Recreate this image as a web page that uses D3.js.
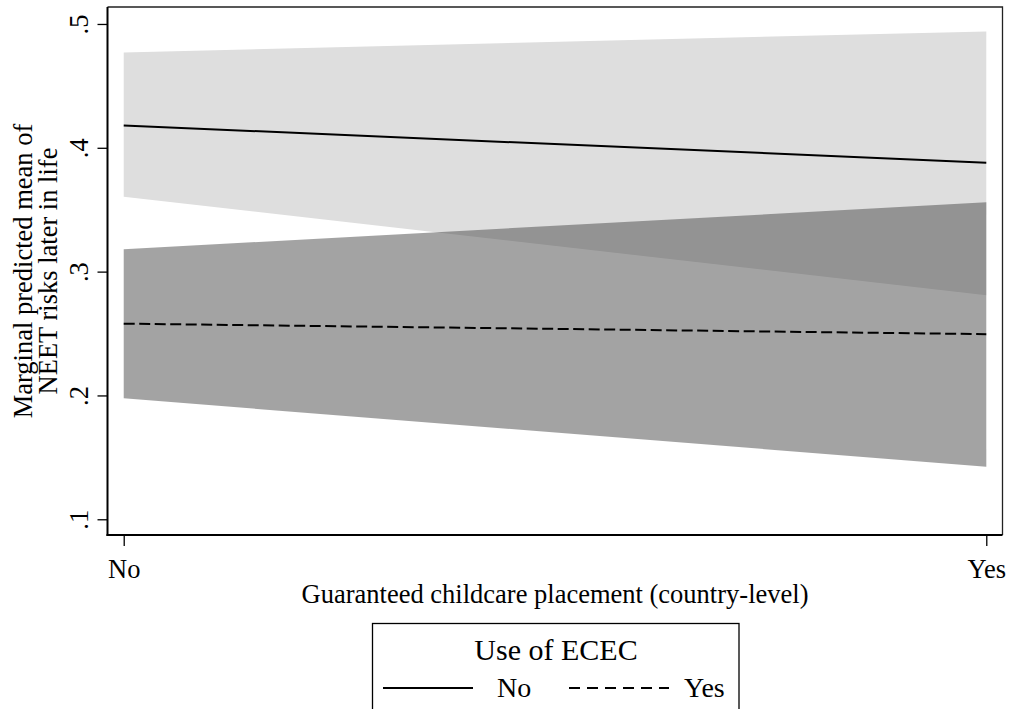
<!DOCTYPE html>
<html>
<head>
<meta charset="utf-8">
<script src="https://cdn.jsdelivr.net/npm/d3@7"></script>
<style>
  html, body { margin: 0; padding: 0; background: #fff; }
  svg { display: block; font-family: "Liberation Serif", "Times New Roman", serif; }
</style>
</head>
<body>
<svg id="chart" width="1009" height="709"></svg>
<script>
// Guaranteed childcare placement (x categories)
const categories = ["No", "Yes"];
// Use of ECEC groups
const groupNames = ["No", "Yes"];
// Predicted means and 95% CI bounds, group "No" (no ECEC use)
const meanNo  = [0.418, 0.388];
const lowerNo = [0.3605, 0.281];
const upperNo = [0.477, 0.494];
// Predicted means and 95% CI bounds, group "Yes" (ECEC use)
const meanYes  = [0.258, 0.2495];
const lowerYes = [0.1977, 0.1424];
const upperYes = [0.318, 0.356];
// Y axis ticks and labels
const yTicks = [0.1, 0.2, 0.3, 0.4, 0.5];
const yTickLabels = [".1", ".2", ".3", ".4", ".5"];

const svg = d3.select("#chart");
const plot = { left: 107.5, right: 1002.5, top: 7, bottom: 535 };
const axisFont = 26.5;
const legendFont = 28;

const x = d3.scalePoint()
  .domain(categories)
  .range([plot.left, plot.right])
  .padding(0.0188);

const y = d3.scaleLinear()
  .domain([0.0873, 0.5137])
  .range([plot.bottom, plot.top]);

const groups = [
  { name: groupNames[0], mean: meanNo, lo: lowerNo, hi: upperNo, dash: null, keyDash: null },
  { name: groupNames[1], mean: meanYes, lo: lowerYes, hi: upperYes, dash: "11,4.5", keyDash: "11,7" }
];

// Confidence bands
const area = d3.area()
  .x(d => x(d.c))
  .y0(d => y(d.lo))
  .y1(d => y(d.hi));

const bandStyle = [
  { fill: "#dedede", opacity: 1 },
  { fill: "#4c4c4c", opacity: 0.515 }
];

groups.forEach((g, i) => {
  const pts = categories.map((c, j) => ({ c, lo: g.lo[j], hi: g.hi[j] }));
  svg.append("path")
    .datum(pts)
    .attr("d", area)
    .attr("fill", bandStyle[i].fill)
    .attr("fill-opacity", bandStyle[i].opacity);
});

// Mean lines
const line = d3.line().x(d => x(d.c)).y(d => y(d.v));
groups.forEach(g => {
  const pts = categories.map((c, j) => ({ c, v: g.mean[j] }));
  svg.append("path")
    .datum(pts)
    .attr("d", line)
    .attr("fill", "none")
    .attr("stroke", "#000")
    .attr("stroke-width", 2)
    .attr("stroke-dasharray", g.dash);
});

// Plot region outline (top and right)
svg.append("path")
  .attr("d", `M${plot.left},${plot.top}H${plot.right}V${plot.bottom}`)
  .attr("fill", "none")
  .attr("stroke", "#222")
  .attr("stroke-width", 1.3);

// Y axis
const yAxis = d3.axisLeft(y)
  .tickValues(yTicks)
  .tickFormat((d, i) => yTickLabels[i])
  .tickSize(10)
  .tickPadding(10);
const gy = svg.append("g")
  .attr("transform", `translate(${plot.left},0)`)
  .call(yAxis);
gy.select(".domain").attr("stroke", "#000").attr("stroke-width", 2)
  .attr("d", `M0,${plot.bottom + 1}V${plot.top}`);
gy.selectAll(".tick line").attr("stroke", "#000").attr("stroke-width", 1.3);
gy.selectAll(".tick text")
  .attr("font-size", axisFont)
  .attr("font-family", "Liberation Serif, serif")
  .attr("fill", "#000")
  .attr("text-anchor", "middle")
  .attr("dy", null)
  .attr("x", null)
  .attr("transform", "translate(-20,0) rotate(-90)");

// X axis
const xAxis = d3.axisBottom(x)
  .tickSize(11)
  .tickPadding(13);
const gx = svg.append("g")
  .attr("transform", `translate(0,${plot.bottom})`)
  .call(xAxis);
gx.select(".domain").attr("stroke", "#000").attr("stroke-width", 2)
  .attr("d", `M${plot.left - 1},0H${plot.right}`);
gx.selectAll(".tick line").attr("stroke", "#000").attr("stroke-width", 1.3);
gx.selectAll(".tick text")
  .attr("font-size", axisFont)
  .attr("font-family", "Liberation Serif, serif")
  .attr("fill", "#000")
  .attr("dy", null)
  .attr("y", 43);

// Axis titles
svg.append("text")
  .attr("x", (plot.left + plot.right) / 2)
  .attr("y", 603)
  .attr("text-anchor", "middle")
  .attr("font-size", axisFont)
  .text("Guaranteed childcare placement (country-level)");

const yTitle = svg.append("text")
  .attr("transform", `translate(0,${(plot.top + plot.bottom) / 2}) rotate(-90)`)
  .attr("text-anchor", "middle")
  .attr("font-size", axisFont);
yTitle.append("tspan").attr("x", 0).attr("y", 32).text("Marginal predicted mean of");
yTitle.append("tspan").attr("x", 0).attr("y", 57).text("NEET risks later in life");

// Legend
const legend = svg.append("g");
legend.append("rect")
  .attr("x", 372.5).attr("y", 623.5)
  .attr("width", 366.5).attr("height", 120)
  .attr("fill", "#fff")
  .attr("stroke", "#000")
  .attr("stroke-width", 1.3);
legend.append("text")
  .attr("x", 556).attr("y", 660)
  .attr("text-anchor", "middle")
  .attr("font-size", 30)
  .text("Use of ECEC");

const legendItems = [
  { x0: 383, x1: 473, tx: 497 },
  { x0: 569, x1: 669, tx: 684 }
];
groups.forEach((g, i) => {
  const it = legendItems[i];
  legend.append("line")
    .attr("x1", it.x0).attr("x2", it.x1)
    .attr("y1", 688).attr("y2", 688)
    .attr("stroke", "#000")
    .attr("stroke-width", 2)
    .attr("stroke-dasharray", g.keyDash);
  legend.append("text")
    .attr("x", it.tx).attr("y", 697)
    .attr("font-size", legendFont)
    .text(g.name);
});
</script>
</body>
</html>
